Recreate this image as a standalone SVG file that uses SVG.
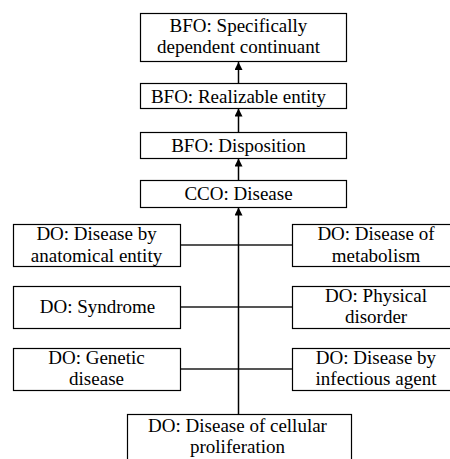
<svg xmlns="http://www.w3.org/2000/svg" width="450" height="459" viewBox="0 0 450 459">
<defs>
<marker id="ah" viewBox="0 0 10 10" refX="10" refY="5" markerWidth="8" markerHeight="8" markerUnits="userSpaceOnUse" orient="auto">
<path d="M0,0 L10,5 L0,10 Z" fill="#000"/>
</marker>
</defs>
<rect width="450" height="459" fill="#fff"/>
<g id="connectors" fill="none">
<g stroke="#555" stroke-width="2">
<line x1="180" y1="245" x2="292" y2="245"/>
<line x1="180" y1="307" x2="292" y2="307"/>
<line x1="180" y1="369" x2="292" y2="369"/>
</g>
<g stroke="#000" stroke-width="1.5">
<line x1="238.5" y1="414" x2="238.5" y2="207.5" marker-end="url(#ah)"/>
<line x1="238.5" y1="180" x2="238.5" y2="158.5" marker-end="url(#ah)"/>
<line x1="238.5" y1="132" x2="238.5" y2="108.5" marker-end="url(#ah)"/>
<line x1="238.5" y1="83" x2="238.5" y2="62" marker-end="url(#ah)"/>
</g>
</g>
<g stroke-width="1.2">
<g id="n1"><rect fill="#fff" stroke="#000" x="140.5" y="13.5" width="206" height="48"/><text font-family="Liberation Serif" font-size="19" x="169.6" y="32">BFO: Specifically</text><text font-family="Liberation Serif" font-size="19" x="157" y="53">dependent continuant</text></g>
<g id="n2"><rect fill="#fff" stroke="#000" x="140.5" y="83.5" width="206" height="25"/><text font-family="Liberation Serif" font-size="19" x="150.9" y="103">BFO: Realizable entity</text></g>
<g id="n3"><rect fill="#fff" stroke="#000" x="140.5" y="132.5" width="206" height="26"/><text font-family="Liberation Serif" font-size="19" x="171.2" y="152">BFO: Disposition</text></g>
<g id="n4"><rect fill="#fff" stroke="#000" x="140.5" y="180.5" width="206" height="27"/><text font-family="Liberation Serif" font-size="19" x="184.4" y="200">CCO: Disease</text></g>
<g id="n5"><rect fill="#fff" stroke="#000" x="13.5" y="224.5" width="167" height="42"/><text font-family="Liberation Serif" font-size="19" x="36.4" y="240">DO: Disease by</text><text font-family="Liberation Serif" font-size="19" x="30.8" y="261.5">anatomical entity</text></g>
<g id="n6"><rect fill="#fff" stroke="#000" x="292.5" y="224.5" width="167" height="42"/><text font-family="Liberation Serif" font-size="19" x="317.4" y="240">DO: Disease of</text><text font-family="Liberation Serif" font-size="19" x="331.7" y="261.5">metabolism</text></g>
<g id="n7"><rect fill="#fff" stroke="#000" x="13.5" y="286.5" width="167" height="42"/><text font-family="Liberation Serif" font-size="19" x="39.7" y="313">DO: Syndrome</text></g>
<g id="n8"><rect fill="#fff" stroke="#000" x="292.5" y="286.5" width="167" height="42"/><text font-family="Liberation Serif" font-size="19" x="325.1" y="302">DO: Physical</text><text font-family="Liberation Serif" font-size="19" x="344.9" y="323">disorder</text></g>
<g id="n9"><rect fill="#fff" stroke="#000" x="13.5" y="348.5" width="167" height="42"/><text font-family="Liberation Serif" font-size="19" x="48.2" y="363.5">DO: Genetic</text><text font-family="Liberation Serif" font-size="19" x="69.1" y="385">disease</text></g>
<g id="n10"><rect fill="#fff" stroke="#000" x="292.5" y="348.5" width="167" height="42"/><text font-family="Liberation Serif" font-size="19" x="315.8" y="363.5">DO: Disease by</text><text font-family="Liberation Serif" font-size="19" x="315.6" y="385">infectious agent</text></g>
<g id="n11"><rect fill="#fff" stroke="#000" x="127.5" y="414.5" width="224" height="60"/><text font-family="Liberation Serif" font-size="19" x="148.1" y="432">DO: Disease of cellular</text><text font-family="Liberation Serif" font-size="19" x="190" y="453">proliferation</text></g>
</g>
</svg>
